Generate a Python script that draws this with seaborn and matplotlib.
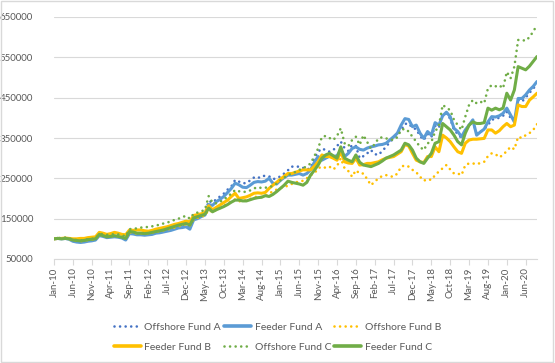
import numpy as np
import pandas as pd
import seaborn as sns
import matplotlib
matplotlib.use("Agg")
import matplotlib.pyplot as plt
from matplotlib.lines import Line2D
from matplotlib.patches import Rectangle

# monthly values, Jan-10 .. Sep-20 (in thousands)
months = pd.date_range("2010-01-01", "2020-09-01", freq="MS")

feeder_a = [100, 101, 100, 101, 99, 94, 92, 91, 92, 94, 95, 97,
            108, 106, 103, 104, 105, 104, 102, 97,
            113, 112, 110, 110, 109, 110, 111, 114, 115, 117, 119, 121,
            124, 127, 128, 130, 124,
            147, 150, 155, 159,
            185, 183, 192, 198, 205, 215, 225, 238, 234, 228,
            227, 233, 240, 242, 241, 243, 250, 238, 236, 245, 252, 258,
            258, 260, 262, 258, 262, 271, 290, 304, 295, 300, 305, 304, 306,
            320, 304, 312, 324, 328, 322, 320, 325, 328, 330, 333, 334, 337, 345, 353,
            362, 382, 398, 396, 378, 382, 362, 349, 366, 357,
            388, 382, 405, 414, 403, 374, 366, 353, 370, 382, 395, 357,
            365, 372, 390, 403, 402, 405, 411, 424, 407, 390, 448, 448, 457, 469, 478, 490]

offshore_a = [100, 101, 101, 102, 100, 95, 93, 92, 93, 95, 96, 98,
              110, 108, 104, 105, 106, 105, 103, 98,
              115, 114, 112, 112, 110, 111, 112, 115, 116, 118, 120, 122,
              125, 128, 130, 132, 127,
              150, 153, 158, 162,
              194, 190, 198, 205, 212, 222, 230, 246, 242, 238,
              238, 245, 252, 250, 256, 256, 255, 248, 250, 255, 262, 270,
              279, 279, 279, 276, 272, 275, 300, 316, 324, 320, 316, 320, 330,
              341, 325, 318, 333, 330, 300, 305, 312, 320, 310, 308, 318, 328, 340, 349,
              360, 370, 385, 386, 375, 372, 355, 345, 360, 352,
              380, 375, 411, 410, 398, 370, 360, 350, 365, 382, 390, 362,
              365, 372, 382, 395, 398, 400, 405, 415, 400, 392, 444, 440, 450, 462, 472, 486]

feeder_b = [100, 101, 101, 102, 101, 100, 100, 101, 101, 103, 104, 105,
            116, 114, 111, 113, 116, 114, 111, 110,
            122, 121, 122, 122, 120, 119, 121, 124, 126, 128, 130, 133,
            136, 138, 141, 144, 142,
            158, 160, 162, 165,
            182, 172, 178, 184, 190, 196, 205, 213, 200, 202,
            204, 208, 213, 214, 213, 215, 225, 233, 240, 248, 255, 262,
            262, 265, 268, 271, 271, 271, 280, 291, 308, 304, 304, 300, 295,
            316, 291, 288, 287, 300, 283, 284, 287, 287, 289, 291, 296, 300, 302, 304,
            310, 316, 334, 330, 312, 295, 291, 289, 304, 304,
            328, 316, 357, 350, 341, 328, 316, 312, 337, 345, 347, 347,
            348, 349, 370, 370, 362, 368, 378, 386, 378, 382, 432, 428, 428, 444, 452, 461]

offshore_b = [100, 100, 101, 101, 99, 96, 95, 94, 95, 97, 98, 99,
              110, 108, 105, 106, 107, 106, 104, 100,
              116, 115, 113, 113, 112, 113, 115, 117, 119, 121, 123, 125,
              128, 131, 134, 136, 133,
              148, 152, 155, 158,
              172, 166, 172, 176, 182, 188, 194, 198, 193, 194,
              196, 199, 203, 205, 204, 206, 212, 218, 222, 226, 228, 232,
              236, 240, 242, 244, 250, 258, 262, 275, 279, 276, 279, 272, 280,
              300, 275, 268, 254, 270, 262, 262, 248, 233, 242, 250, 256, 258, 255, 254,
              262, 279, 282, 279, 271, 265, 254, 244, 248, 246,
              258, 267, 275, 283, 272, 262, 262, 258, 283, 287, 287, 285,
              288, 291, 305, 312, 310, 302, 308, 318, 328, 322, 353, 350, 357, 362, 370, 384]

feeder_c = [100, 101, 100, 101, 100, 97, 96, 95, 96, 98, 99, 100,
            111, 108, 105, 106, 108, 106, 104, 101,
            118, 117, 114, 114, 113, 114, 116, 118, 120, 122, 125, 128,
            131, 134, 136, 138, 134,
            152, 155, 158, 161,
            176, 167, 172, 176, 180, 185, 191, 196, 196, 194,
            194, 197, 200, 202, 203, 207, 205, 210, 217, 225, 233, 243,
            240, 238, 236, 233, 240, 258, 270, 283, 300, 308, 312, 306, 300,
            328, 300, 295, 291, 308, 290, 283, 281, 279, 283, 287, 293, 300, 304, 308,
            314, 320, 337, 333, 320, 300, 291, 287, 300, 312,
            337, 341, 386, 378, 370, 357, 341, 333, 362, 382, 390, 386,
            386, 388, 424, 419, 424, 420, 424, 461, 444, 469, 527, 523, 519, 528, 540, 552]

offshore_c = [100, 102, 102, 103, 101, 98, 97, 96, 97, 99, 100, 101,
              111, 112, 110, 110, 112, 111, 109, 106,
              124, 125, 126, 128, 128, 130, 131, 133, 135, 138, 140, 144,
              147, 150, 154, 157, 150,
              162, 165, 168, 172,
              206, 190, 188, 192, 197, 205, 212, 221, 218, 216,
              217, 220, 225, 228, 226, 227, 227, 232, 237, 245, 252, 258,
              262, 266, 271, 275, 280, 287, 305, 324, 353, 355, 350, 345, 355,
              374, 337, 330, 345, 353, 333, 357, 340, 324, 335, 349, 352, 349, 347, 345,
              352, 370, 373, 366, 353, 341, 328, 320, 337, 340,
              366, 380, 432, 425, 419, 395, 382, 370, 403, 432, 444, 436,
              440, 436, 473, 481, 478, 481, 473, 514, 498, 527, 593, 593, 591, 600, 614, 630]

series_names = ["Offshore Fund A", "Feeder Fund A", "Offshore Fund B",
                "Feeder Fund B", "Offshore Fund C", "Feeder Fund C"]
series_values = [offshore_a, feeder_a, offshore_b, feeder_b, offshore_c, feeder_c]
series_colors = ["#4472C4", "#5B9BD5", "#FFC000", "#FFC000", "#70AD47", "#70AD47"]
series_dotted = [True, False, True, False, True, False]

sns.set_theme(style="white")
plt.rcParams["font.family"] = ["Lato", "DejaVu Sans"]

fig = plt.figure(figsize=(5.55, 3.63), dpi=100)
ax = fig.add_axes([54 / 555, 1 - 259 / 363, (537 - 54) / 555, (259 - 17) / 363])

x = np.arange(len(months))
dot_style = (0, (0.01, 2.1))
handles = []
for name, vals, col, dotted in zip(series_names, series_values, series_colors, series_dotted):
    y = np.array(vals) * 1000
    if dotted:
        sns.lineplot(x=x, y=y, ax=ax, color=col, lw=1.9, linestyle=dot_style,
                     dash_capstyle="round", zorder=3)
        handles.append(Line2D([], [], color=col, lw=1.9, linestyle=dot_style,
                              dash_capstyle="round"))
    else:
        sns.lineplot(x=x, y=y, ax=ax, color=col, lw=2.2, zorder=3,
                     solid_capstyle="round")
        handles.append(Line2D([], [], color=col, lw=2.6))

ax.set_xlim(0, len(months) - 1)
ax.set_ylim(50000, 650000)
ax.set_yticks(range(50000, 650001, 100000))
ax.set_yticklabels([str(v) for v in range(50000, 650001, 100000)])
ticks = x[::5]
ax.set_xticks(ticks)
ax.set_xticklabels([months[i].strftime("%b-%y") for i in ticks], rotation=90)
ax.grid(axis="y", color="#D9D9D9", lw=0.8)
ax.set_axisbelow(True)
for s in ["left", "right", "top"]:
    ax.spines[s].set_visible(False)
ax.spines["bottom"].set_color("#D9D9D9")
ax.spines["bottom"].set_linewidth(0.8)
ax.tick_params(axis="x", bottom=True, length=4, width=0.8, color="#D9D9D9",
               labelsize=7, labelcolor="#595959", pad=2)
ax.tick_params(axis="y", left=False, labelsize=7, labelcolor="#595959", pad=9)
ax.set_xlabel("")
ax.set_ylabel("")

# legend order row-major like the reference: reorder for column-major fill
order = [0, 3, 1, 4, 2, 5]
fig.legend([handles[i] for i in order], [series_names[i] for i in order],
           loc="center", bbox_to_anchor=(0.5, 1 - 337 / 363), ncol=3,
           frameon=False, fontsize=7.5, labelcolor="#595959",
           handlelength=2.6, handletextpad=0.35, columnspacing=0.3,
           labelspacing=1.0)

fig.patches.append(Rectangle((0.002, 0.003), 0.995, 0.994, transform=fig.transFigure,
                             fill=False, edgecolor="#D9D9D9", lw=1))

fig.savefig("out.png", dpi=100)
